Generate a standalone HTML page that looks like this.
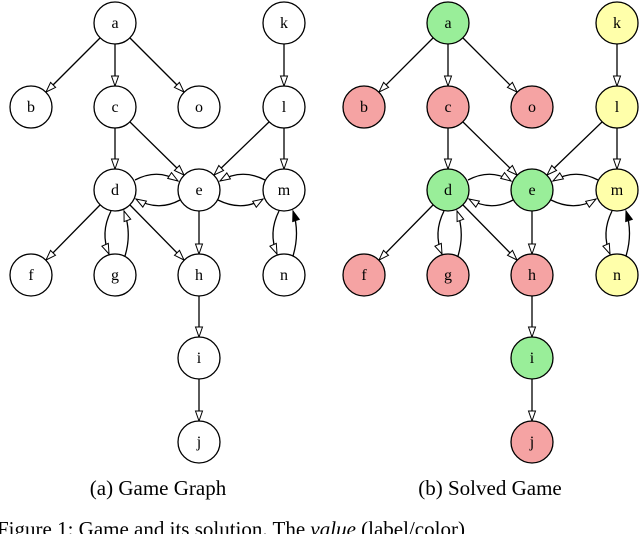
<!DOCTYPE html>
<html><head><meta charset="utf-8"><style>
html,body{margin:0;padding:0;background:#fff}
svg{display:block}
</style></head><body>
<svg width="640" height="534" viewBox="0 0 640 534" xmlns="http://www.w3.org/2000/svg" font-family="Liberation Serif, serif">
<g>
<g fill="none" stroke="#000" stroke-width="1.3">
<line x1="100" y1="38" x2="46" y2="92"/>
<line x1="115" y1="44" x2="115" y2="86"/>
<line x1="130" y1="38" x2="184" y2="92"/>
<line x1="284" y1="44" x2="284" y2="86"/>
<line x1="130" y1="122" x2="184" y2="175"/>
<line x1="115" y1="128" x2="115" y2="169"/>
<line x1="269" y1="122" x2="214" y2="175"/>
<line x1="284" y1="128" x2="284" y2="169"/>
<line x1="100" y1="205" x2="46" y2="260"/>
<line x1="130" y1="205" x2="184" y2="260"/>
<line x1="199" y1="211" x2="199" y2="254"/>
<line x1="199" y1="296" x2="199" y2="337"/>
<line x1="199" y1="379" x2="199" y2="421"/>
<path d="M135,180 Q158,168 178,181"/>
<path d="M180,200 Q158,212 136,199"/>
<path d="M265,180 Q242,168 220,181"/>
<path d="M218,200 Q242,212 263,199"/>
<path d="M111,211 Q100,233 109,254"/>
<path d="M125,256 Q132,233 124,211"/>
<path d="M279,211 Q268,233 277,254"/>
<path d="M293,256 Q300,233 293,211"/>
</g>
<g fill="#fff" stroke="#000" stroke-width="1">
<polygon points="46,92 55.6,87.4 50.6,82.4"/>
<polygon points="115,86 111.5,76 118.5,76"/>
<polygon points="184,92 174.4,87.4 179.4,82.4"/>
<polygon points="284,86 280.5,76 287.5,76"/>
<polygon points="184,175 174.4,170.5 179.4,165.5"/>
<polygon points="115,169 111.5,159 118.5,159"/>
<polygon points="214,175 223.6,170.5 218.8,165.5"/>
<polygon points="284,169 280.5,159 287.5,159"/>
<polygon points="46,260 55.5,255.3 50.5,250.4"/>
<polygon points="184,260 174.5,255.3 179.5,250.4"/>
<polygon points="199,254 195.5,244 202.5,244"/>
<polygon points="199,337 195.5,327 202.5,327"/>
<polygon points="199,421 195.5,411 202.5,411"/>
<polygon points="178,181 167.7,178.4 171.5,172.6"/>
<polygon points="136,199 146.4,201.1 142.8,207.1"/>
<polygon points="220,181 230.4,178.9 226.8,172.9"/>
<polygon points="263,199 256.3,207.3 252.7,201.3"/>
<polygon points="109,254 101.9,246.2 108.3,243.4"/>
<polygon points="124,211 130.7,219.2 124.1,221.6"/>
<polygon points="277,254 269.9,246.2 276.3,243.4"/>
<polygon points="293,211 299.3,219.4 292.7,221.6" fill="#000"/>
</g>
</g>
<g transform="translate(333,0)">
<g fill="none" stroke="#000" stroke-width="1.3">
<line x1="100" y1="38" x2="46" y2="92"/>
<line x1="115" y1="44" x2="115" y2="86"/>
<line x1="130" y1="38" x2="184" y2="92"/>
<line x1="284" y1="44" x2="284" y2="86"/>
<line x1="130" y1="122" x2="184" y2="175"/>
<line x1="115" y1="128" x2="115" y2="169"/>
<line x1="269" y1="122" x2="214" y2="175"/>
<line x1="284" y1="128" x2="284" y2="169"/>
<line x1="100" y1="205" x2="46" y2="260"/>
<line x1="130" y1="205" x2="184" y2="260"/>
<line x1="199" y1="211" x2="199" y2="254"/>
<line x1="199" y1="296" x2="199" y2="337"/>
<line x1="199" y1="379" x2="199" y2="421"/>
<path d="M135,180 Q158,168 178,181"/>
<path d="M180,200 Q158,212 136,199"/>
<path d="M265,180 Q242,168 220,181"/>
<path d="M218,200 Q242,212 263,199"/>
<path d="M111,211 Q100,233 109,254"/>
<path d="M125,256 Q132,233 124,211"/>
<path d="M279,211 Q268,233 277,254"/>
<path d="M293,256 Q300,233 293,211"/>
</g>
<g fill="#fff" stroke="#000" stroke-width="1">
<polygon points="46,92 55.6,87.4 50.6,82.4"/>
<polygon points="115,86 111.5,76 118.5,76"/>
<polygon points="184,92 174.4,87.4 179.4,82.4"/>
<polygon points="284,86 280.5,76 287.5,76"/>
<polygon points="184,175 174.4,170.5 179.4,165.5"/>
<polygon points="115,169 111.5,159 118.5,159"/>
<polygon points="214,175 223.6,170.5 218.8,165.5"/>
<polygon points="284,169 280.5,159 287.5,159"/>
<polygon points="46,260 55.5,255.3 50.5,250.4"/>
<polygon points="184,260 174.5,255.3 179.5,250.4"/>
<polygon points="199,254 195.5,244 202.5,244"/>
<polygon points="199,337 195.5,327 202.5,327"/>
<polygon points="199,421 195.5,411 202.5,411"/>
<polygon points="178,181 167.7,178.4 171.5,172.6"/>
<polygon points="136,199 146.4,201.1 142.8,207.1"/>
<polygon points="220,181 230.4,178.9 226.8,172.9"/>
<polygon points="263,199 256.3,207.3 252.7,201.3"/>
<polygon points="109,254 101.9,246.2 108.3,243.4"/>
<polygon points="124,211 130.7,219.2 124.1,221.6"/>
<polygon points="277,254 269.9,246.2 276.3,243.4"/>
<polygon points="293,211 299.3,219.4 292.7,221.6" fill="#000"/>
</g>
</g>
<g stroke="#000" stroke-width="1.3" fill="#fff">
<circle cx="115" cy="23" r="21"/><circle cx="284" cy="23" r="21"/>
<circle cx="31" cy="107" r="21"/><circle cx="115" cy="107" r="21"/><circle cx="199" cy="107" r="21"/><circle cx="284" cy="107" r="21"/>
<circle cx="115" cy="190" r="21"/><circle cx="199" cy="190" r="21"/><circle cx="284" cy="190" r="21"/>
<circle cx="31" cy="275" r="21"/><circle cx="115" cy="275" r="21"/><circle cx="199" cy="275" r="21"/><circle cx="284" cy="275" r="21"/>
<circle cx="199" cy="358" r="21"/><circle cx="199" cy="442" r="21"/>
</g>
<g stroke="#000" stroke-width="1.3" transform="translate(333,0)">
<circle cx="115" cy="23" r="21" fill="#99ee99"/><circle cx="284" cy="23" r="21" fill="#ffffaa"/>
<circle cx="31" cy="107" r="21" fill="#f5a3a3"/><circle cx="115" cy="107" r="21" fill="#f5a3a3"/><circle cx="199" cy="107" r="21" fill="#f5a3a3"/><circle cx="284" cy="107" r="21" fill="#ffffaa"/>
<circle cx="115" cy="190" r="21" fill="#99ee99"/><circle cx="199" cy="190" r="21" fill="#99ee99"/><circle cx="284" cy="190" r="21" fill="#ffffaa"/>
<circle cx="31" cy="275" r="21" fill="#f5a3a3"/><circle cx="115" cy="275" r="21" fill="#f5a3a3"/><circle cx="199" cy="275" r="21" fill="#f5a3a3"/><circle cx="284" cy="275" r="21" fill="#ffffaa"/>
<circle cx="199" cy="358" r="21" fill="#99ee99"/><circle cx="199" cy="442" r="21" fill="#f5a3a3"/>
</g>
<g font-size="16" text-anchor="middle" fill="#000">
<text x="115" y="28">a</text><text x="284" y="28">k</text>
<text x="31" y="112">b</text><text x="115" y="112">c</text><text x="199" y="112">o</text><text x="284" y="112">l</text>
<text x="115" y="195">d</text><text x="199" y="195">e</text><text x="284" y="195">m</text>
<text x="31" y="280">f</text><text x="115" y="280">g</text><text x="199" y="280">h</text><text x="284" y="280">n</text>
<text x="199" y="363">i</text><text x="199" y="447">j</text>
</g>
<g font-size="16" text-anchor="middle" fill="#000" transform="translate(333,0)">
<text x="115" y="28">a</text><text x="284" y="28">k</text>
<text x="31" y="112">b</text><text x="115" y="112">c</text><text x="199" y="112">o</text><text x="284" y="112">l</text>
<text x="115" y="195">d</text><text x="199" y="195">e</text><text x="284" y="195">m</text>
<text x="31" y="280">f</text><text x="115" y="280">g</text><text x="199" y="280">h</text><text x="284" y="280">n</text>
<text x="199" y="363">i</text><text x="199" y="447">j</text>
</g>
<text x="158" y="495" font-size="21" text-anchor="middle" fill="#000">(a) Game Graph</text>
<text x="490" y="495" font-size="21" text-anchor="middle" fill="#000">(b) Solved Game</text>
<text x="-3" y="536" font-size="21" fill="#000">Figure 1: Game and its solution. The <tspan font-style="italic">value</tspan> (label/color)</text>
</svg>
</body></html>
